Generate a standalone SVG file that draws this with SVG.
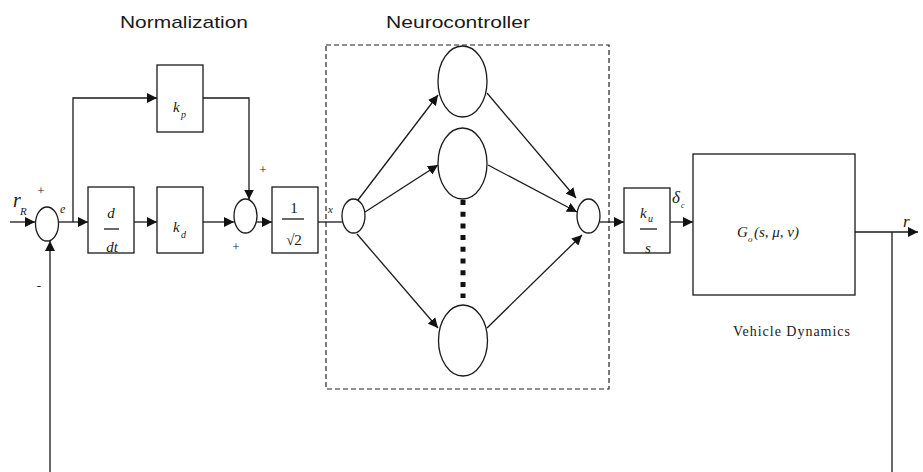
<svg xmlns="http://www.w3.org/2000/svg" width="923" height="472" viewBox="0 0 923 472">
  <defs>
    <marker id="arrow" markerWidth="10" markerHeight="10" refX="10" refY="5" orient="auto" markerUnits="userSpaceOnUse">
      <path d="M0,0 L10,5 L0,10 Z" fill="#111"/>
    </marker>
    <style>
      .ln { stroke:#1a1a1a; stroke-width:1.3; fill:none; }
      .arr { marker-end:url(#arrow); }
      .box { fill:#fff; stroke:#1a1a1a; stroke-width:1.3; }
      .node { fill:#fff; stroke:#1a1a1a; stroke-width:1.3; }
      .math { font-family:"Liberation Serif", "Times New Roman", serif; font-style:italic; fill:#1a1a1a; }
      .rom { font-family:"Liberation Serif", "Times New Roman", serif; fill:#1a1a1a; }
      .title { font-family:"Liberation Sans", Arial, sans-serif; font-size:17px; fill:#1a1a1a; }
      .frame { fill:none; stroke:#222; stroke-width:1.2; stroke-dasharray:5 3; }
      .dots { stroke:#111; stroke-width:5; stroke-dasharray:5 6.7; fill:none; }
    </style>
  </defs>

  <rect width="923" height="472" fill="#fff"/>

  <!-- section titles -->
  <text class="title" x="120" y="28" textLength="128" lengthAdjust="spacingAndGlyphs">Normalization</text>
  <text class="title" x="386" y="28" textLength="144" lengthAdjust="spacingAndGlyphs">Neurocontroller</text>

  <!-- neurocontroller frame -->
  <rect id="neuro-frame" class="frame" x="326" y="45" width="283" height="344"/>

  <!-- connectors -->
  <g id="connectors">
    <path class="ln arr" d="M10,222 H35"/>
    <path class="ln arr" d="M50,472 V241"/>
    <path class="ln arr" d="M58.5,222 H88"/>
    <path class="ln arr" d="M73,222 V98 H157"/>
    <path class="ln arr" d="M134,222 H157"/>
    <path class="ln arr" d="M203,222 H234"/>
    <path class="ln arr" d="M203,98 H249 V199.5"/>
    <path class="ln arr" d="M257,222 H272"/>
    <path class="ln" d="M318,222 H342"/>
    <!-- hidden-layer fan-out / fan-in -->
    <path class="ln arr" d="M358,200 L438,95"/>
    <path class="ln arr" d="M365,212 L438,165"/>
    <path class="ln arr" d="M357,234 L438,328"/>
    <path class="ln arr" d="M487,93 L576,198"/>
    <path class="ln arr" d="M488,165 L577,212"/>
    <path class="ln arr" d="M487,328 L582,235"/>
    <path class="dots" d="M463,200 V298"/>
    <path class="ln arr" d="M600,222 H624"/>
    <path class="ln arr" d="M670,222 H693"/>
    <path class="ln arr" d="M855,232 H918"/>
    <path class="ln" d="M892,232 V472"/>
  </g>

  <!-- summing junctions -->
  <g id="sum-error"><ellipse class="node" cx="47" cy="224" rx="11.5" ry="17"/></g>
  <g id="sum-norm"><ellipse class="node" cx="245.5" cy="216" rx="11.5" ry="17"/></g>
  <g id="nn-input"><ellipse class="node" cx="353.5" cy="216" rx="11.5" ry="17"/></g>
  <g id="nn-output"><ellipse class="node" cx="588.5" cy="216" rx="11.5" ry="17"/></g>

  <!-- hidden neurons -->
  <g id="hidden-1"><ellipse class="node" cx="462.5" cy="81.5" rx="24.5" ry="35.5"/></g>
  <g id="hidden-2"><ellipse class="node" cx="462.5" cy="163.5" rx="24.5" ry="35.5"/></g>
  <g id="hidden-n"><ellipse class="node" cx="463" cy="340.5" rx="24.5" ry="35.5"/></g>

  <!-- gain blocks -->
  <g id="block-kp">
    <rect class="box" x="157" y="65" width="46" height="67"/>
    <text class="math" x="173" y="112" font-size="15">k</text>
    <text class="math" x="181" y="118" font-size="10">p</text>
  </g>
  <g id="block-ddt">
    <rect class="box" x="88" y="187" width="46" height="66"/>
    <text class="math" x="111" y="218" font-size="15" text-anchor="middle">d</text>
    <line class="ln" x1="104" y1="229" x2="119" y2="229" stroke-width="1"/>
    <text class="math" x="112" y="252" font-size="15" text-anchor="middle">dt</text>
  </g>
  <g id="block-kd">
    <rect class="box" x="157" y="187" width="46" height="66"/>
    <text class="math" x="173" y="232" font-size="15">k</text>
    <text class="math" x="181" y="238" font-size="10">d</text>
  </g>
  <g id="block-scale">
    <rect class="box" x="272" y="187" width="46" height="66"/>
    <text class="rom" x="294" y="213" font-size="15" text-anchor="middle">1</text>
    <line class="ln" x1="282" y1="219" x2="304" y2="219" stroke-width="1"/>
    <text class="rom" x="294" y="245" font-size="15" text-anchor="middle">√2</text>
  </g>
  <g id="block-ku">
    <rect class="box" x="624" y="188" width="46" height="65"/>
    <text class="math" x="640" y="218" font-size="15">k</text>
    <text class="math" x="648" y="222" font-size="10">u</text>
    <line class="ln" x1="640" y1="229" x2="657" y2="229" stroke-width="1"/>
    <text class="math" x="648" y="253" font-size="15" text-anchor="middle">s</text>
  </g>
  <g id="block-plant">
    <rect class="box" x="693" y="154" width="162" height="141"/>
    <text class="math" x="737" y="237" font-size="15">G</text>
    <text class="math" x="748" y="242" font-size="9">o</text>
    <text class="math" x="754" y="237" font-size="15">(s, μ, v)</text>
    <text class="rom" x="733" y="336" font-size="14" textLength="117" lengthAdjust="spacing">Vehicle Dynamics</text>
  </g>

  <!-- signal labels -->
  <text class="math" x="13" y="207" font-size="20">r</text>
  <text class="math" x="20" y="215" font-size="11">R</text>
  <text class="rom" x="41" y="195" font-size="13" text-anchor="middle">+</text>
  <text class="math" x="60" y="213" font-size="12">e</text>
  <text class="rom" x="39" y="290" font-size="13" text-anchor="middle">-</text>
  <text class="rom" x="263" y="174" font-size="13" text-anchor="middle">+</text>
  <text class="rom" x="236" y="251" font-size="13" text-anchor="middle">+</text>
  <text class="math" x="328" y="213" font-size="11">x</text>
  <text class="math" x="672" y="203" font-size="17">δ</text>
  <text class="math" x="681" y="208" font-size="8">c</text>
  <text class="math" x="903" y="227" font-size="17">r</text>
</svg>
